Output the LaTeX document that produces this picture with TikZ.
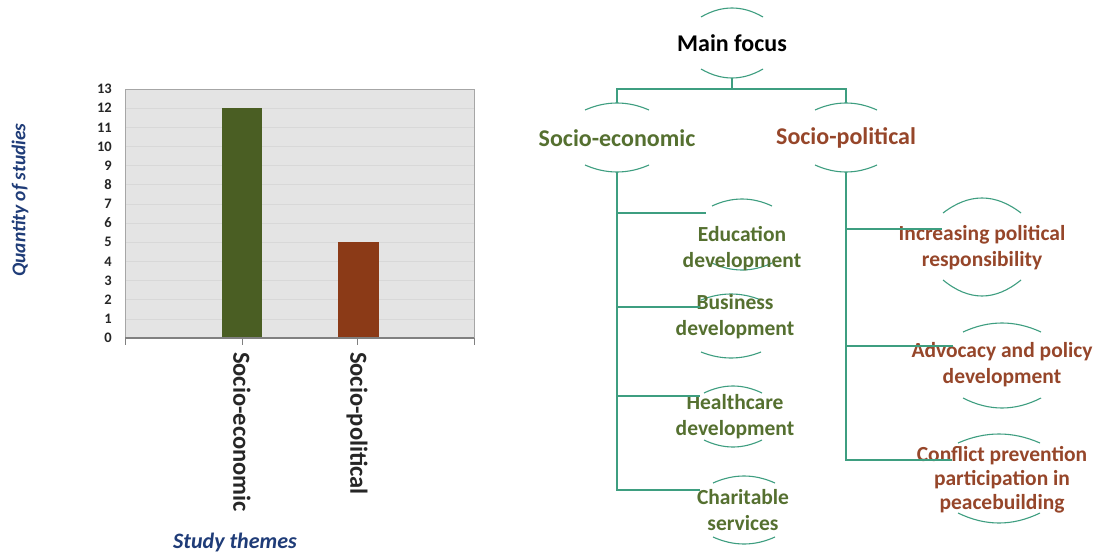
\documentclass[tikz,border=0pt]{standalone}
\usepackage{fontspec}
\setmainfont{Carlito}

\definecolor{ecogreen}{HTML}{4A5E23}
\definecolor{polred}{HTML}{8B3A17}
\definecolor{ecotext}{HTML}{557030}
\definecolor{poltext}{HTML}{96462A}
\definecolor{linkteal}{HTML}{3E9E80}
\definecolor{axisblue}{HTML}{1F3C78}
\definecolor{plotbg}{HTML}{E4E4E4}
\definecolor{gridgray}{HTML}{D8D8D8}

\tikzset{
  link/.style={draw=linkteal, line width=1.4pt},
  arcline/.style={draw=linkteal, line width=1.1pt},
  toptext/.style={font=\bfseries\fontsize{24}{28}\selectfont, align=center},
  leaftext/.style={font=\bfseries\fontsize{21.5}{26}\selectfont, align=center},
  ticklabel/.style={font=\bfseries\fontsize{14.5}{16}\selectfont, text=black!85, anchor=east, inner sep=0pt},
  axistitle/.style={font=\bfseries\itshape\fontsize{19.5}{22}\selectfont, text=axisblue},
  catlabel/.style={font=\bfseries\fontsize{24.5}{26}\selectfont, text=black!85, rotate=-90, anchor=west, inner sep=0pt},
}

% top and bottom arcs round a box: x centre, top y, bottom y, half width, top sag, bottom sag
\newcommand{\nodearcs}[6]{%
  \draw[arcline] ({#1-#4},#2) .. controls ({#1-#4/3},{#2-4/3*#5}) and ({#1+#4/3},{#2-4/3*#5}) .. ({#1+#4},#2);
  \draw[arcline] ({#1-#4},#3) .. controls ({#1-#4/3},{#3+4/3*#6}) and ({#1+#4/3},{#3+4/3*#6}) .. ({#1+#4},#3);
}

\begin{document}
\begin{tikzpicture}[x=1pt,y=-1pt]
    \useasboundingbox (0,0) rectangle (1099,556);
    \fill[white] (0,0) rectangle (1099,556);

    % chart
    \begin{scope}[shift={(125,338)}, y=19.154pt]
      \fill[plotbg] (0,0) rectangle (349,13);
      \foreach \v in {1,...,12}
        \draw[gridgray, line width=0.6pt] (0,\v) -- (349,\v);
      \draw[gray!70, line width=0.9pt] (0,0) -- (0,13) -- (349,13) -- (349,0);

      % bars
      \fill[ecogreen] (97,0) rectangle (137,12);
      \fill[polred] (213,0) rectangle (254,5);

      % x axis
      \draw[gray, line width=1.2pt] (0,0) -- (349,0);
      \foreach \t in {0,117,232,349}
        \draw[gray, line width=1pt] (\t,0) -- (\t,-0.37);

      % y labels
      \foreach \v in {0,...,13}
        \node[ticklabel] (y\v) at (-13,\v) {\v};

      % category labels
      \node[catlabel] (cateco) at (117,-0.73) {Socio-economic};
      \node[catlabel] (catpol) at (232,-0.73) {Socio-political};
    \end{scope}

    \node[axistitle, rotate=90] (ytitle) at (20,200) {Quantity of studies};
    \node[axistitle, font=\bfseries\itshape\fontsize{22}{24}\selectfont] (xtitle) at (235,543) {Study themes};

    % tree: arcs
    \nodearcs{732}{17}{69}{31}{9}{9}
    \nodearcs{617}{110}{165}{32}{7}{7}
    \nodearcs{846}{110}{165}{31}{7}{7}
    \nodearcs{742}{206}{263}{30}{7}{7}
    \nodearcs{731}{300}{352}{30}{6}{6}
    \nodearcs{733}{393}{440}{29}{7}{7}
    \nodearcs{744}{483}{537}{31}{7}{7}
    \nodearcs{982}{213}{280}{39}{15}{16}
    \nodearcs{1002}{332}{398}{39}{9}{10}
    \nodearcs{999}{443}{513}{41}{9}{10}

    % tree: texts
    \node[toptext] (main) at (732,43) {Main focus};
    \node[toptext, text=ecotext] (soceco) at (617,138) {Socio-economic};
    \node[toptext, text=poltext] (socpol) at (846,138) {Socio-political};

    \node[leaftext, text=ecotext] (edu) at (742,249) {Education\\development};
    \node[leaftext, text=ecotext] (bus) at (735,317) {Business\\development};
    \node[leaftext, text=ecotext] (health) at (735,417) {Healthcare\\development};
    \node[leaftext, text=ecotext] (charit) at (743,510) {Charitable\\services};

    \node[leaftext, text=poltext] (incr) at (982,248) {Increasing political\\responsibility};
    \node[leaftext, text=poltext] (advoc) at (1002,365) {Advocacy and policy\\development};
    \node[leaftext, text=poltext, font=\bfseries\fontsize{21.5}{24}\selectfont] (confl) at (1002,480) {Conflict prevention\\participation in\\peacebuilding};

    % tree: connector ends
    \coordinate (main-b) at (732,78);
    \coordinate (soceco-t) at (617,103);
    \coordinate (socpol-t) at (846,103);
    \coordinate (soceco-b) at (617,172);
    \coordinate (socpol-b) at (846,172);
    \coordinate (edu-in) at (706,213);
    \coordinate (bus-in) at (700,307);
    \coordinate (health-in) at (700,396);
    \coordinate (charit-in) at (700,490);
    \coordinate (incr-in) at (942,229);
    \coordinate (advoc-in) at (953,346);
    \coordinate (confl-in) at (952,460);

    % tree: connectors
    \draw[link] (main-b) -- ++(0,11) -| (soceco-t);
    \draw[link] (main-b) -- ++(0,11) -| (socpol-t);
    \draw[link] (soceco-b) |- (edu-in);
    \draw[link] (soceco-b) |- (bus-in);
    \draw[link] (soceco-b) |- (health-in);
    \draw[link] (soceco-b) |- (charit-in);
    \draw[link] (socpol-b) |- (incr-in);
    \draw[link] (socpol-b) |- (advoc-in);
    \draw[link] (socpol-b) |- (confl-in);
\end{tikzpicture}
\end{document}
